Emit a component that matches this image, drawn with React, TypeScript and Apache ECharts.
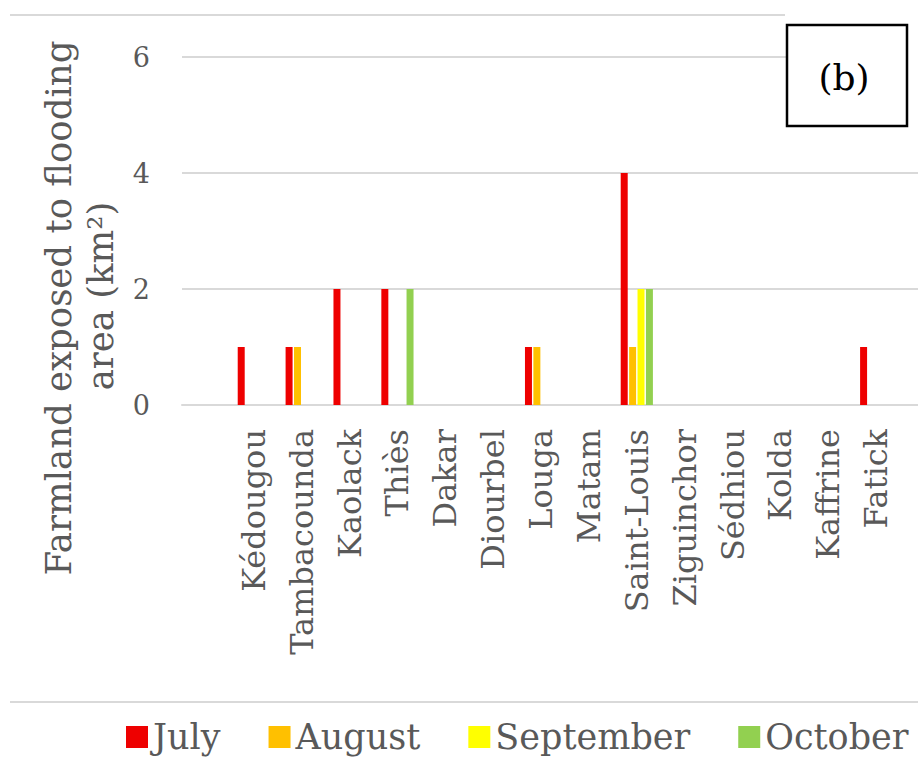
import React, { useEffect, useRef } from "react";
import * as echarts from "echarts";

const regions = [
  "Kédougou",
  "Tambacounda",
  "Kaolack",
  "Thiès",
  "Dakar",
  "Diourbel",
  "Louga",
  "Matam",
  "Saint-Louis",
  "Ziguinchor",
  "Sédhiou",
  "Kolda",
  "Kaffrine",
  "Fatick",
];
const july = [1, 1, 2, 2, 0, 0, 1, 0, 4, 0, 0, 0, 0, 1];
const august = [0, 1, 0, 0, 0, 0, 1, 0, 1, 0, 0, 0, 0, 0];
const september = [0, 0, 0, 0, 0, 0, 0, 0, 2, 0, 0, 0, 0, 0];
const october = [0, 0, 0, 2, 0, 0, 0, 0, 2, 0, 0, 0, 0, 0];
const seriesNames = ["July", "August", "September", "October"];
const seriesColors = ["#EE0000", "#FFC000", "#FFFF00", "#92D050"];
const yMin = 0;
const yMax = 6;
const yInterval = 2;
const yTitle1 = "Farmland exposed to flooding";
const yTitle2 = "area (km²)";
const panelLabel = "(b)";

const FONT = "DejaVu Serif";
const GRAY = "#595959";
const LINE = "#d9d9d9";

export default function App() {
  const ref = useRef<HTMLDivElement>(null);
  useEffect(() => {
    if (!ref.current) return;
    const chart = echarts.init(ref.current, undefined, { renderer: "svg" });
    const cats = ["", ...regions, ""];
    const pad = (a: number[]) => [null, ...a, null];
    const all = [july, august, september, october];
    chart.setOption({
      animation: false,
      backgroundColor: "#ffffff",
      grid: {
        left: 182,
        right: -30,
        top: 57,
        bottom: 353,
        containLabel: false,
        outerBoundsMode: "none",
      },
      xAxis: {
        type: "category",
        data: cats,
        axisLine: { lineStyle: { color: LINE, width: 2 } },
        axisTick: { show: false },
        axisLabel: {
          interval: 0,
          rotate: 90,
          margin: 24,
          color: GRAY,
          fontFamily: FONT,
          fontSize: 32,
        },
      },
      yAxis: {
        type: "value",
        min: yMin,
        max: yMax,
        interval: yInterval,
        axisLine: { show: false },
        axisTick: { show: false },
        splitLine: { lineStyle: { color: LINE, width: 2 } },
        axisLabel: {
          margin: 32,
          color: GRAY,
          fontFamily: FONT,
          fontSize: 27,
        },
      },
      legend: {
        left: 121,
        top: 714,
        width: 1200,
        itemWidth: 22,
        itemHeight: 22,
        itemGap: 48,
        icon: "rect",
        textStyle: { color: GRAY, fontFamily: FONT, fontSize: 35, lineHeight: 36 },
        data: seriesNames,
      },
      series: all.map((vals, i) => ({
        name: seriesNames[i],
        type: "bar",
        data: pad(vals),
        barWidth: 7,
        barGap: "20%",
        itemStyle: { color: seriesColors[i] },
      })),
      graphic: [
        {
          type: "line",
          z: 50,
          shape: { x1: 10, y1: 15, x2: 785, y2: 15 },
          style: { stroke: LINE, lineWidth: 2 },
        },
        {
          type: "line",
          z: 50,
          shape: { x1: 10, y1: 702, x2: 918, y2: 702 },
          style: { stroke: LINE, lineWidth: 2 },
        },
        {
          type: "rect",
          z: 90,
          shape: { x: 786, y: 24, width: 132, height: 104 },
          style: { fill: "#ffffff" },
        },
        {
          type: "rect",
          z: 100,
          shape: { x: 787, y: 25, width: 120, height: 101 },
          style: { fill: "#ffffff", stroke: "#000000", lineWidth: 2.5 },
        },
        {
          type: "text",
          z: 101,
          x: 844,
          y: 77,
          style: {
            text: panelLabel,
            fill: "#000000",
            font: `36px "${FONT}"`,
            textAlign: "center",
            textVerticalAlign: "middle",
          },
        },
        {
          type: "text",
          z: 101,
          x: 58,
          y: 308,
          rotation: Math.PI / 2,
          style: {
            text: yTitle1,
            fill: GRAY,
            font: `35.5px "${FONT}"`,
            textAlign: "center",
            textVerticalAlign: "middle",
          },
        },
        {
          type: "text",
          z: 101,
          x: 100,
          y: 296,
          rotation: Math.PI / 2,
          style: {
            text: yTitle2,
            fill: GRAY,
            font: `35.5px "${FONT}"`,
            textAlign: "center",
            textVerticalAlign: "middle",
          },
        },
      ],
    });
    return () => chart.dispose();
  }, []);
  return (
    <div
      ref={ref}
      style={{ position: "fixed", left: 0, top: 0, width: 918, height: 758 }}
    />
  );
}
